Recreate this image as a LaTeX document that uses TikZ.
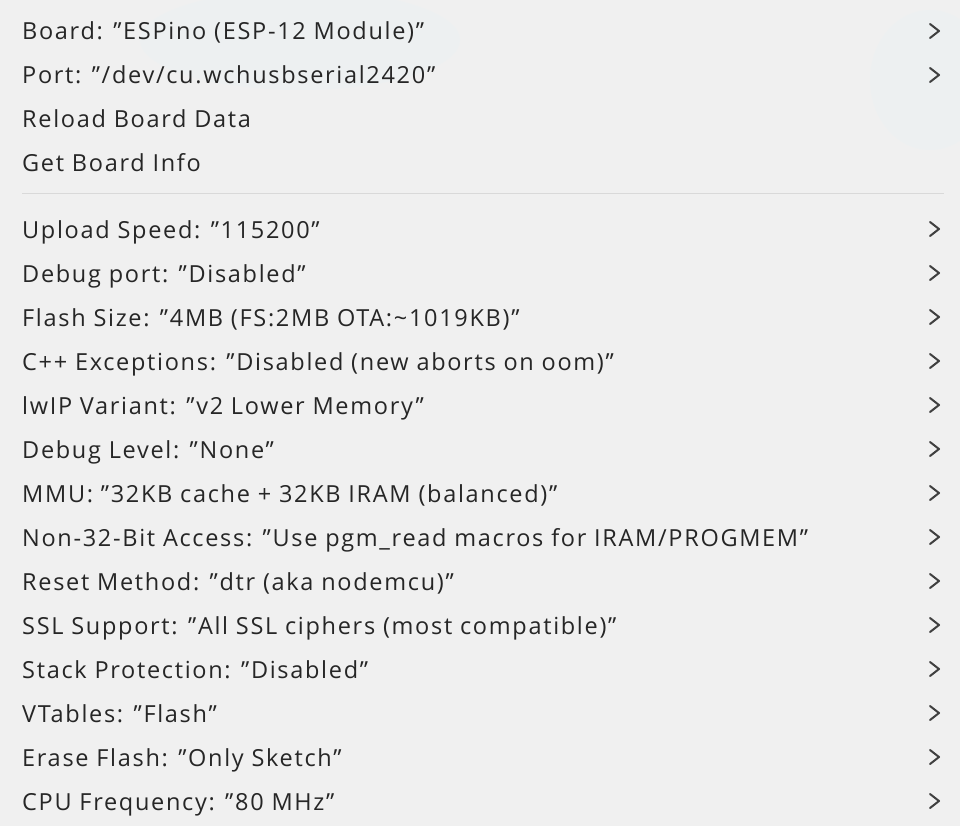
\documentclass[tikz,border=0pt]{standalone}
\usepackage{fontspec}
\setmainfont{Open Sans}[Ligatures=NoCommon,LetterSpace=7.2]
\def\Q{\char34\relax}
\begin{document}
\begin{tikzpicture}[x=1pt,y=-1pt,
  item/.style={anchor=base west,inner sep=0pt,font=\fontsize{23.5}{26}\selectfont,text=black!85},
  chev/.style={line width=2pt,line cap=round,line join=round,draw=black!75}]
\useasboundingbox (0,0) rectangle (960,826);
\fill[black!6!white] (0,0) rectangle (960,826);
\fill[cyan!30!teal!10!white,opacity=0.3] (300,40) ellipse (160 and 50);
\fill[cyan!30!teal!10!white,opacity=0.3] (930,80) ellipse (60 and 70);
\fill[black!15] (22,193.5) rectangle (944,194.5);
\foreach \y/\t/\c [count=\i] in {31/{Board: \Q ESPino (ESP-12 Module)\Q}/1,75/{Port: \Q/dev/cu.wchusbserial2420\Q}/1,119/{Reload Board Data}/0,163/{Get Board Info}/0,229/{Upload Speed: \Q115200\Q}/1,273/{Debug port: \Q Disabled\Q}/1,317/{Flash Size: \Q4MB (FS:2MB OTA:\char126 1019KB)\Q}/1,361/{C++ Exceptions: \Q Disabled (new aborts on oom)\Q}/1,405/{lwIP Variant: \Q v2 Lower Memory\Q}/1,449/{Debug Level: \Q None\Q}/1,493/{MMU: \Q32KB cache + 32KB IRAM (balanced)\Q}/1,537/{Non-32-Bit Access: \Q Use pgm\_read macros for IRAM/PROGMEM\Q}/1,581/{Reset Method: \Q dtr (aka nodemcu)\Q}/1,625/{SSL Support: \Q All SSL ciphers (most compatible)\Q}/1,669/{Stack Protection: \Q Disabled\Q}/1,713/{VTables: \Q Flash\Q}/1,757/{Erase Flash: \Q Only Sketch\Q}/1,801/{CPU Frequency: \Q80 MHz\Q}/1} {
  \node[item] (r\i) at (22,\y+9) {\t};
  \ifnum\c=1 \draw[chev] (930,\y-7) -- (939,\y) -- (930,\y+7); \fi
}
\end{tikzpicture}
\end{document}
